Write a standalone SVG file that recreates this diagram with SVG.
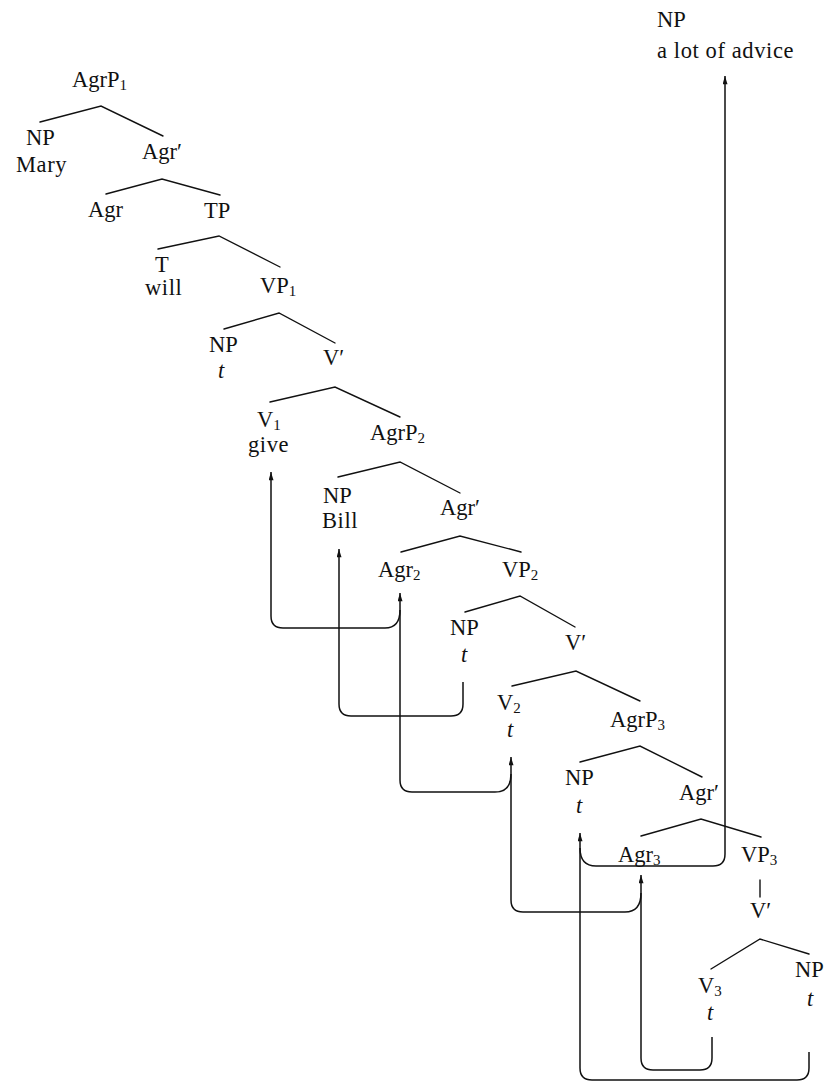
<svg xmlns="http://www.w3.org/2000/svg" width="826" height="1087" viewBox="0 0 826 1087">
<style>
text{font-family:"Liberation Serif","Times New Roman",serif;font-size:22.5px;fill:#111}
.w{letter-spacing:0.6px}
.i{font-style:italic}
.s{font-size:15px}
.br{stroke:#111;stroke-width:1.4;fill:none;stroke-linecap:round}
.mv{stroke:#111;stroke-width:1.5;fill:none;marker-end:url(#ah)}
</style>
<defs>
<marker id="ah" viewBox="0 0 10 6" refX="10" refY="3" markerWidth="9" markerHeight="5" markerUnits="userSpaceOnUse" orient="auto">
<path d="M0,0 L10,3 L0,6 z" fill="#111"/>
</marker>
</defs>
<rect width="826" height="1087" fill="#fff"/>
<g id="np-advice"><text x="657" y="27">NP</text><text class="w" x="657" y="58">a lot of advice</text></g>
<g id="agrp1"><text x="72" y="87">AgrP<tspan class="s" dy="3">1</tspan></text><path class="br" d="M40,122 L101,106 L163,136"/></g>
<g id="np-mary"><text x="26" y="145">NP</text><text class="w" x="16" y="172">Mary</text></g>
<g id="agrbar1"><text x="142" y="159">Agr′</text><path class="br" d="M106,194 L162,179 L220,195"/></g>
<g id="agr1"><text x="88" y="217">Agr</text></g>
<g id="tp"><text x="204" y="218">TP</text><path class="br" d="M158,249 L219,236 L280,267"/></g>
<g id="t-will"><text x="155" y="272">T</text><text class="w" x="145" y="295">will</text></g>
<g id="vp1"><text x="260" y="293">VP<tspan class="s" dy="3">1</tspan></text><path class="br" d="M224,329 L279,313 L335,343"/></g>
<g id="np-t1"><text x="209" y="352">NP</text><text class="i" x="218" y="378">t</text></g>
<g id="vbar1"><text x="323" y="365">V′</text><path class="br" d="M270,402 L335,387 L400,417"/></g>
<g id="v1"><text x="257" y="427">V<tspan class="s" dy="3">1</tspan></text><text class="w" x="248" y="452">give</text></g>
<g id="agrp2"><text x="370" y="440">AgrP<tspan class="s" dy="3">2</tspan></text><path class="br" d="M338,477 L400,462 L460,493"/></g>
<g id="np-bill"><text x="323" y="503">NP</text><text class="w" x="322" y="528">Bill</text></g>
<g id="agrbar2"><text x="440" y="515">Agr′</text><path class="br" d="M401,552 L460,536 L521,552"/></g>
<g id="agr2"><text x="378" y="577">Agr<tspan class="s" dy="3">2</tspan></text></g>
<g id="vp2"><text x="502" y="577">VP<tspan class="s" dy="3">2</tspan></text><path class="br" d="M465,612 L520,596 L575,627"/></g>
<g id="np-t2"><text x="450" y="635">NP</text><text class="i" x="461" y="662">t</text></g>
<g id="vbar2"><text x="565" y="650">V′</text><path class="br" d="M512,686 L576,671 L640,701"/></g>
<g id="v2"><text x="497" y="710">V<tspan class="s" dy="3">2</tspan></text><text class="i" x="507" y="737">t</text></g>
<g id="agrp3"><text x="610" y="727">AgrP<tspan class="s" dy="3">3</tspan></text><path class="br" d="M580,762 L640,746 L702,777"/></g>
<g id="np-t3"><text x="565" y="785">NP</text><text class="i" x="576" y="813">t</text></g>
<g id="agrbar3"><text x="679" y="800">Agr′</text><path class="br" d="M641,836 L701,819 L761,837"/></g>
<g id="agr3"><text x="618" y="862">Agr<tspan class="s" dy="3">3</tspan></text></g>
<g id="vp3"><text x="741" y="862">VP<tspan class="s" dy="3">3</tspan></text><path class="br" d="M760,880 L760,897"/></g>
<g id="vbar3"><text x="750" y="918">V′</text><path class="br" d="M711,969 L760,939 L809,954"/></g>
<g id="v3"><text x="698" y="993">V<tspan class="s" dy="3">3</tspan></text><text class="i" x="707" y="1020">t</text></g>
<g id="np-t4"><text x="795" y="977">NP</text><text class="i" x="807" y="1006">t</text></g>
<g id="connectors">
<path class="mv" d="M712,1037 V1058 Q712,1070 700,1070 H653 Q641,1070 641,1058 V875"/>
<path class="mv" d="M641,893 Q641,912 625,912 H523 Q511,912 511,900 V757"/>
<path class="mv" d="M511,774 Q511,792 495,792 H412 Q400,792 400,780 V593"/>
<path class="mv" d="M400,610 Q400,628 385,628 H283 Q271,628 271,616 V472"/>
<path class="mv" d="M463,682 V704 Q463,716 451,716 H351 Q339,716 339,704 V549"/>
<path class="mv" d="M580,848 Q580,866 596,866 H713 Q725,866 725,854 V76"/>
<path class="mv" d="M809,1052 V1068 Q809,1080 797,1080 H592 Q580,1080 580,1068 V833"/>
</g>
</svg>
